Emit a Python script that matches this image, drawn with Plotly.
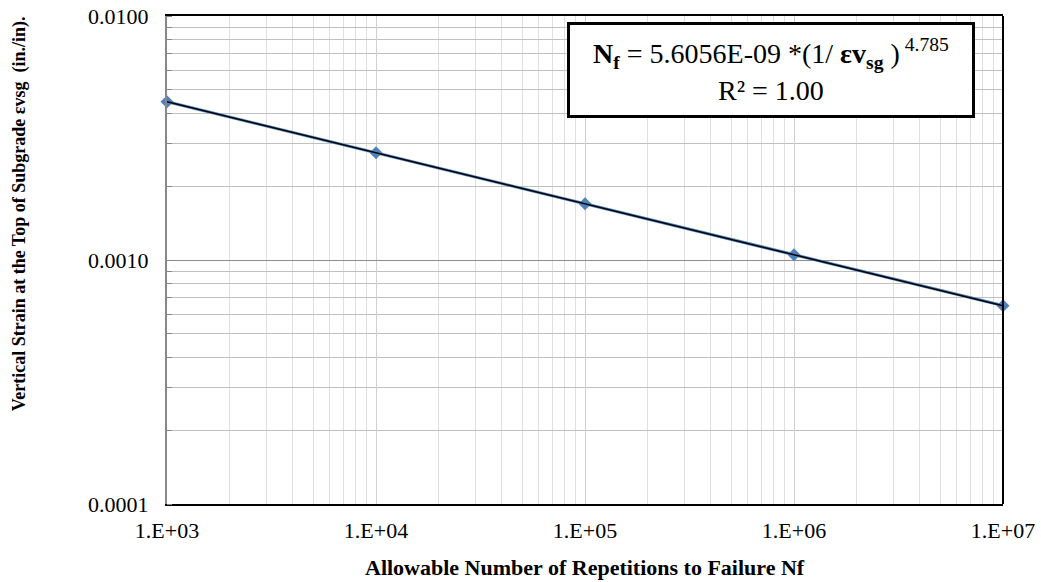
import numpy as np
import plotly.graph_objects as go

# Data
repetitions = [1e3, 1e4, 1e5, 1e6, 1e7]
strain = [0.00445, 0.00275, 0.00170, 0.00105, 0.00065]
x_tick_vals = [1e3, 1e4, 1e5, 1e6, 1e7]
x_tick_text = ["1.E+03", "1.E+04", "1.E+05", "1.E+06", "1.E+07"]
y_tick_vals = [1e-4, 1e-3, 1e-2]
y_tick_text = ["0.0001", "0.0010", "0.0100"]

# Power trendline fitted to the data (log-log)
lx = np.log10(repetitions)
ly = np.log10(strain)
slope, intercept = np.polyfit(lx, ly, 1)
fit_x = np.array([repetitions[0], repetitions[-1]])
fit_y = 10 ** (intercept + slope * np.log10(fit_x))

FONT = "Liberation Serif"
EPS = 1e-6

fig = go.Figure()
fig.add_trace(go.Scatter(
    x=repetitions, y=strain, mode="lines+markers",
    line=dict(color="#4f81bd", width=3),
    marker=dict(symbol="diamond", size=10, color="#4f81bd"),
    showlegend=False, cliponaxis=False,
))
fig.add_trace(go.Scatter(
    x=fit_x, y=fit_y, mode="lines",
    line=dict(color="black", width=1.5),
    showlegend=False,
))

fig.update_xaxes(
    type="log", range=[3 - EPS, 7 + EPS], automargin=False,
    tickvals=x_tick_vals, ticktext=x_tick_text,
    tickfont=dict(family=FONT, size=22, color="black"),
    ticklabelstandoff=6,
    showgrid=True, gridcolor="#d0d0d0", gridwidth=1,
    minor=dict(showgrid=True, gridcolor="#e0e0e0", gridwidth=1, dtick="D1"),
    showline=True, linecolor="black", linewidth=2, mirror=True,
    ticks="", zeroline=False,
)
fig.update_yaxes(
    type="log", range=[-4 - EPS, -2 + EPS], automargin=False,
    tickvals=y_tick_vals, ticktext=y_tick_text,
    tickfont=dict(family=FONT, size=22, color="black"),
    ticklabelstandoff=12,
    showgrid=True, gridcolor="#8c8c8c", gridwidth=1,
    minor=dict(showgrid=True, gridcolor="#c0c0c0", gridwidth=1, dtick="D1",
               ticks="inside", ticklen=5, tickcolor="#888"),
    showline=True, linecolor="#888888", linewidth=2,
    ticks="", zeroline=False,
)

# right border of the plot area
fig.add_shape(type="line", xref="paper", yref="paper", x0=1, x1=1, y0=0, y1=1,
              line=dict(color="black", width=2))

# axis titles
fig.add_annotation(
    xref="paper", yref="paper", x=0.5, y=-0.131, xanchor="center", yanchor="middle",
    text="<b>Allowable Number of Repetitions to Failure Nf</b>",
    showarrow=False, font=dict(family=FONT, size=22, color="black"),
)
fig.add_annotation(
    xref="paper", yref="paper", x=-0.177, y=0.594, xanchor="center", yanchor="middle",
    text="<b>Vertical Strain at the Top of Subgrade εvsg  (in./in).</b>",
    textangle=-90, showarrow=False, font=dict(family=FONT, size=18, color="black"),
)

fig.add_annotation(
    xref="paper", yref="paper", x=0.478, y=0.988, xanchor="left", yanchor="top",
    text="<b>N<sub>f</sub></b> = 5.6056E-09 *(1/ <b>εv<sub>sg</sub></b> )<sup> 4.785</sup><br>R² = 1.00",
    showarrow=False, align="center",
    font=dict(family=FONT, size=28, color="black"),
    bgcolor="white", bordercolor="black", borderwidth=3,
    width=400, height=88,
)

fig.update_layout(
    width=1041, height=582,
    margin=dict(l=167, r=38, t=16, b=78),
    paper_bgcolor="white", plot_bgcolor="white",
)

fig.write_html("out.html")
